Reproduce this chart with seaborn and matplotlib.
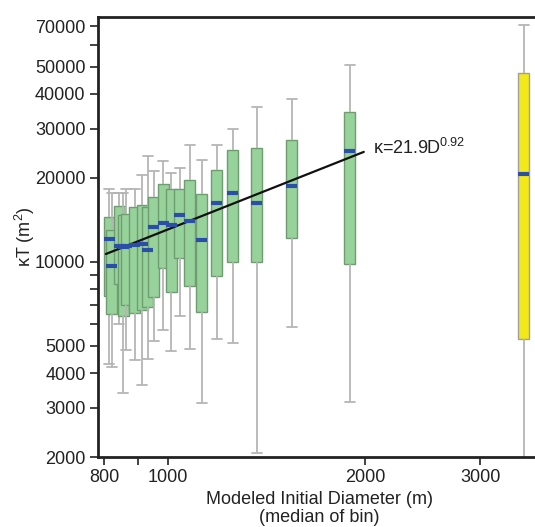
import numpy as np
import pandas as pd
import matplotlib
matplotlib.use("Agg")
import matplotlib.pyplot as plt
import matplotlib.ticker as mticker
import seaborn as sns

# bin medians (m) and five-number summaries of kT (m^2)
diam = [813, 821, 842, 854, 863, 890, 913, 932, 952, 983, 1011, 1043,
        1080, 1127, 1188, 1257, 1367, 1546, 1896]
w_lo = [4310, 4200, 5990, 3390, 4840, 4460, 3620, 4490, 5210, 5710, 4800, 6400,
        4880, 3130, 5300, 5130, 2065, 5850, 3150]
q1 = [7550, 6510, 8340, 6400, 7010, 6560, 6730, 6900, 7490, 9520, 7810, 10330,
      8200, 6620, 8910, 10000, 10000, 12200, 9840]
med = [12090, 9680, 11410, 11320, 11410, 11510, 11600, 11040, 13350, 13800, 13570, 14740,
       14030, 12000, 16300, 17700, 16300, 18700, 25000]
q3 = [14500, 13020, 15880, 14740, 14860, 15750, 16010, 15750, 17100, 19040, 18260, 18260,
      19670, 17500, 21400, 25200, 25600, 27300, 34500]
w_hi = [18260, 17670, 17670, 17670, 18260, 18260, 20500, 23990, 21200, 23010, 20840, 21720,
        26270, 23200, 26200, 30000, 35900, 38300, 50800]

# separate (yellow) box
big_d = [3496]
big_stats = [1200, 5300, 20650, 47550, 70700]

# power-law fit line endpoints
fit_d = [804, 1991]
fit_k = [10680, 24800]

y_major = [2000, 3000, 4000, 5000, 10000, 20000, 30000, 40000, 50000, 70000]
y_minor = [6000, 7000, 8000, 9000, 60000]
x_major = [800, 1000, 2000, 3000]
x_minor = [900]

df = pd.DataFrame({
    "D": np.repeat(diam, 5),
    "kT": np.column_stack([w_lo, q1, med, q3, w_hi]).ravel(),
})
df_big = pd.DataFrame({"D": np.repeat(big_d, 5), "kT": big_stats})

sns.set_style("ticks")
plt.rcParams["font.family"] = ["Liberation Sans", "DejaVu Sans"]
plt.rcParams["mathtext.default"] = "regular"

fig = plt.figure(figsize=(5.35, 5.27), dpi=100)
ax = fig.add_axes([98 / 535, 1 - 457 / 527, 442 / 535, 440 / 527])

box_w = 0.0168  # box width in decades
min_gap = np.diff(np.sort(np.log10(diam))).min()

common = dict(whis=(0, 100), saturation=1, native_scale=True, log_scale=(True, True),
              medianprops={"color": "#2b4ea6", "linewidth": 3},
              whiskerprops={"color": "#b5b5b5", "linewidth": 1.3},
              capprops={"color": "#b5b5b5", "linewidth": 1.3},
              ax=ax)

sns.boxplot(data=df, x="D", y="kT", color="#98d29b", width=box_w / min_gap,
            boxprops={"edgecolor": "#6f9c71", "linewidth": 1},
            capwidths=[box_w * 0.95] * len(diam), **common)
sns.boxplot(data=df_big, x="D", y="kT", color="#f3e818", width=box_w,
            boxprops={"edgecolor": "#a0a0a0", "linewidth": 1},
            capwidths=[box_w * 0.95], **common)

sns.lineplot(x=fit_d, y=fit_k, color="#111111", linewidth=1.6, ax=ax)
ax.text(2056, 25600, "κ=21.9D$^{0.92}$", fontsize=13, ha="left", va="center", color="#222222")

ax.set_xlim(782, 3700)
ax.set_ylim(2000, 75500)

ax.yaxis.set_major_locator(mticker.FixedLocator(y_major))
ax.yaxis.set_minor_locator(mticker.FixedLocator(y_minor))
ax.yaxis.set_major_formatter(mticker.FuncFormatter(lambda v, p: f"{v:.0f}"))
ax.yaxis.set_minor_formatter(mticker.NullFormatter())
ax.xaxis.set_major_locator(mticker.FixedLocator(x_major))
ax.xaxis.set_minor_locator(mticker.FixedLocator(x_minor))
ax.xaxis.set_major_formatter(mticker.FuncFormatter(lambda v, p: f"{v:.0f}"))
ax.xaxis.set_minor_formatter(mticker.NullFormatter())

ax.tick_params(which="both", length=6, width=1.2, color="#222222",
               labelsize=13, labelcolor="#222222", pad=3)

for s in ax.spines.values():
    s.set_linewidth(2)
    s.set_color("#222222")

ax.set_xlabel("Modeled Initial Diameter (m)\n(median of bin)", fontsize=13,
              color="#222222", labelpad=3, linespacing=1.1)
ax.set_ylabel("κT (m$^2$)", fontsize=13, color="#222222")
ax.yaxis.set_label_coords(-0.137, 0.5)

fig.savefig("out.png", dpi=100)
